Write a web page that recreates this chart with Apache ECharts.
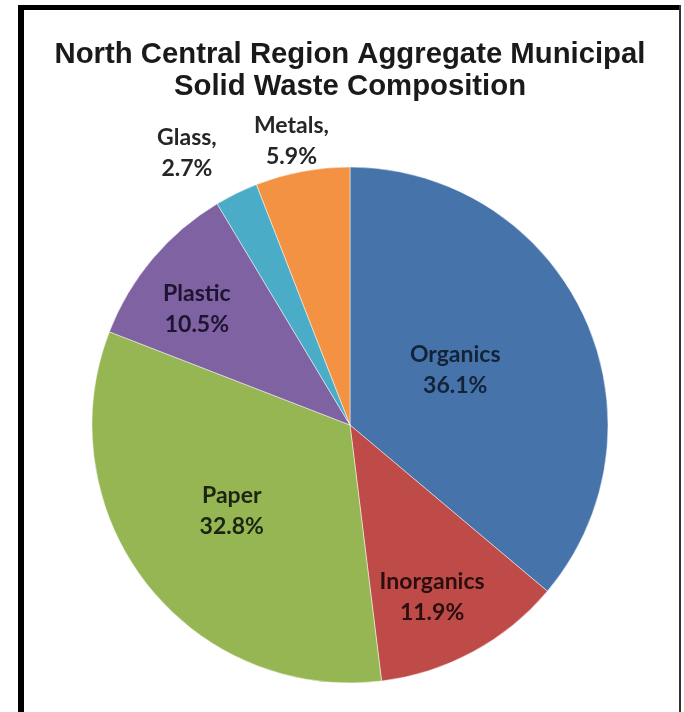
<!DOCTYPE html>
<html>
<head>
<meta charset="utf-8">
<script src="https://cdn.jsdelivr.net/npm/echarts@6/dist/echarts.min.js"></script>
<style>
  html, body { margin: 0; padding: 0; background: #ffffff; }
  #chart { width: 684px; height: 712px; }
</style>
</head>
<body>
<div id="chart"></div>
<script>
// Waste stream categories and their share of the total (percent)
const categories = ['Organics', 'Inorganics', 'Paper', 'Plastic', 'Glass', 'Metals'];
const shares = [36.1, 11.9, 32.8, 10.5, 2.7, 5.9];
const heading = 'North Central Region Aggregate Municipal\nSolid Waste Composition';

// Slice fills and label ink
const sliceColors = ['#4573AA', '#BE4B48', '#96B654', '#7E62A1', '#4AACC6', '#F39242'];
const labelInk = ['#13233a', '#2b0e0d', '#1b2511', '#1e1331', '#262626', '#262626'];
// Label placement: distance from the centre (fraction of radius) and a small
// angular nudge (degrees) away from the slice's middle angle
const labelReach = [0.46, 0.74, 0.566, 0.744, 1.23, 1.125];
const labelTurn = [-2.6, 3, 2, -3, -4.8, -1];
// Small slices carry their label outside the pie, written "Name,"
const outsideLabel = [false, false, false, false, true, true];

const CX = 350, CY = 425, R = 258;

const total = shares.reduce((a, b) => a + b, 0);

const pieData = categories.map((name, i) => ({
  name: name,
  value: shares[i],
  itemStyle: { color: sliceColors[i] },
  label: {
    color: labelInk[i],
    formatter: outsideLabel[i] ? '{b},\n{c}%' : '{b}\n{c}%'
  }
}));

const chart = echarts.init(document.getElementById('chart'), null, { renderer: 'canvas' });

chart.setOption({
  backgroundColor: '#ffffff',
  animation: false,
  graphic: [
    // frame: heavy left and top rules, hairline on the right
    { type: 'rect', shape: { x: 18, y: 5, width: 6, height: 707 }, style: { fill: '#000' }, silent: true },
    { type: 'rect', shape: { x: 18, y: 5, width: 663, height: 5 }, style: { fill: '#000' }, silent: true },
    { type: 'rect', shape: { x: 679, y: 5, width: 2, height: 707 }, style: { fill: '#333' }, silent: true },
    // two-line heading, centred over the pie
    {
      type: 'text',
      x: CX,
      y: 39,
      silent: true,
      style: {
        text: heading,
        align: 'center',
        verticalAlign: 'top',
        fontFamily: '"Liberation Sans", Arial, sans-serif',
        fontWeight: 'bold',
        fontSize: 29.3,
        lineHeight: 32,
        fill: '#1a1a1a'
      }
    }
  ],
  series: [{
    type: 'pie',
    center: [CX, CY],
    radius: R,
    startAngle: 90,
    clockwise: true,
    avoidLabelOverlap: false,
    itemStyle: { borderColor: 'rgba(255,255,255,0.6)', borderWidth: 0.8 },
    label: {
      show: true,
      position: 'inside',
      fontFamily: 'Lato, "Open Sans", sans-serif',
      fontWeight: 'bold',
      fontSize: 23,
      lineHeight: 31,
      align: 'center'
    },
    labelLine: { show: false },
    emphasis: { disabled: true },
    labelLayout: function (p) {
      const i = p.dataIndex;
      let before = 0;
      for (let j = 0; j < i; j++) before += shares[j];
      const mid = (before + shares[i] / 2) / total * Math.PI * 2 + labelTurn[i] * Math.PI / 180;
      const r = R * labelReach[i];
      return {
        x: CX + r * Math.sin(mid),
        y: CY - r * Math.cos(mid),
        align: 'center',
        verticalAlign: 'middle'
      };
    },
    data: pieData
  }]
});
</script>
</body>
</html>
